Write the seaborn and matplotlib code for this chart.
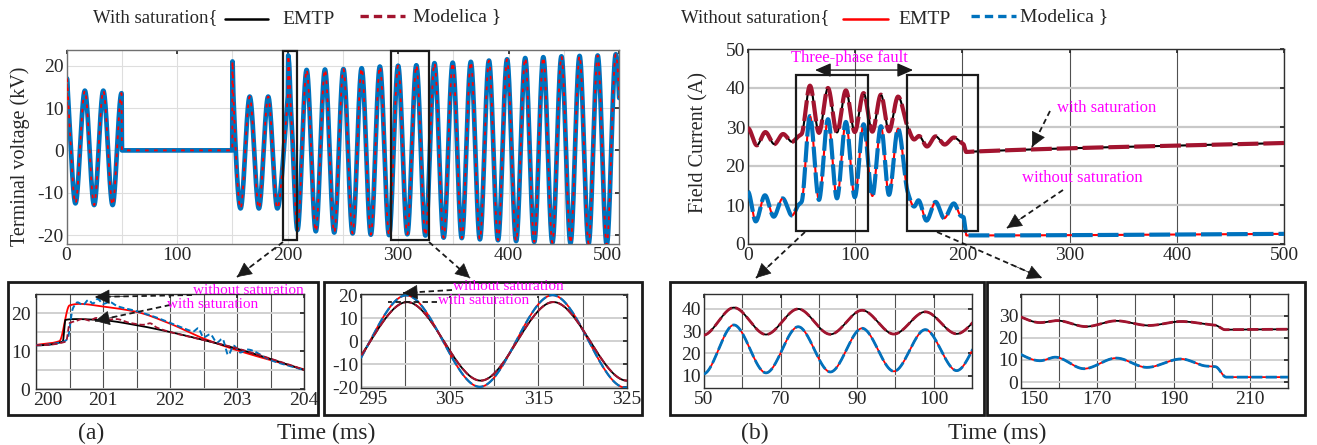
import numpy as np
import pandas as pd
import seaborn as sns
import matplotlib
matplotlib.use("Agg")
import matplotlib.pyplot as plt
import matplotlib.transforms as mtransforms
from matplotlib.patches import Rectangle, FancyArrowPatch
from matplotlib.lines import Line2D

# ---------------------------------------------------------------------------
# Data: turning points (time in ms, value) of each recorded trace
# ---------------------------------------------------------------------------
# Terminal voltage (kV), unsaturated machine
volt_nosat_t = [0.0, 0.3, 1.2, 8.1, 16.6, 25.0, 33.3, 41.7, 49.8, 50.2, 150.0, 150.2,
                151.0, 157.5, 165.8, 174.1, 182.5, 190.8, 200.0, 200.35, 200.5, 200.65,
                201.0, 201.5, 202.0, 202.5, 203.0, 203.5, 204.0, 209.0,
                217.3, 225.6, 233.9, 242.3, 250.6, 258.9, 267.1, 275.4, 283.6, 291.9,
                300.1, 308.4, 316.6, 324.8, 333.0, 341.3, 349.5, 357.7, 365.9, 374.1,
                382.3, 390.5, 398.7, 406.9, 415.1, 423.3, 431.5, 439.7, 447.9, 456.1,
                464.3, 472.5, 480.7, 488.9, 497.1, 505.3]
volt_nosat_v = [8.5, 17.0, 13.5, -12.5, 14.1, -12.9, 14.1, -12.9, 13.5, 0.0, 0.0, 21.0,
                13.0, -13.7, 12.7, -13.7, 12.7, -13.7, 11.6, 12.6, 22.0, 22.4,
                21.7, 20.3, 17.2, 13.3, 10.2, 7.6, 5.2, -18.8,
                19.0, -19.1, 19.1, -19.4, 19.2, -19.6, 19.4, -19.9, 19.8, -20.0,
                20.0, -19.8, 20.1, -20.1, 20.6, -20.6, 20.7, -20.7, 20.9, -21.0,
                21.2, -21.2, 21.5, -21.4, 21.8, -21.6, 22.0, -21.8, 22.2, -21.9,
                22.3, -22.0, 22.4, -22.3, 22.7, -22.5]

# Terminal voltage around the 200 ms step, Modelica, unsaturated
volt_nosat_mod_t = [200.0, 200.4, 200.47, 200.55, 200.62, 200.7, 200.78, 200.85, 200.92,
                    201.0, 201.1, 201.2, 201.5, 201.8, 202.0, 202.2, 202.35, 202.42,
                    202.5, 202.6, 202.7, 202.78, 202.87, 202.95, 203.05, 203.15, 203.5, 204.0]
volt_nosat_mod_v = [11.5, 12.4, 13.2, 21.2, 22.8, 22.1, 23.4, 22.5, 23.7,
                    22.4, 22.9, 21.9, 20.5, 18.8, 17.4, 16.0, 15.2, 16.0,
                    13.6, 14.4, 12.2, 13.2, 9.0, 11.4, 9.6, 10.4, 7.6, 5.0]

# Terminal voltage around the 200 ms step, saturated machine
volt_sat_emtp_t = [200.0, 200.4, 200.44, 200.6, 201.0, 201.5, 202.0, 202.5, 203.0, 203.5, 204.0]
volt_sat_emtp_v = [11.5, 12.5, 18.2, 18.4, 18.1, 16.8, 15.0, 12.9, 10.6, 7.9, 5.0]
volt_sat_mod_t = [200.0, 200.45, 200.5, 200.6, 200.7, 200.8, 200.9, 201.0, 201.2, 201.4,
                  201.6, 201.7, 201.8, 202.0, 202.5, 203.0, 203.5, 203.8, 204.0]
volt_sat_mod_v = [11.5, 12.5, 17.3, 17.9, 18.5, 18.0, 18.7, 18.2, 18.4, 17.4,
                  16.9, 17.3, 16.2, 15.0, 12.9, 10.7, 8.0, 6.3, 5.0]

# Terminal voltage, saturated machine, steady oscillation near 300 ms
volt_sat_t = [283.7, 291.9, 300.2, 308.5, 316.7, 325.0, 333.3]
volt_sat_v = [17.1, -17.0, 17.1, -17.1, 17.1, -17.1, 17.1]

# Field current (A)
field_sat_t = [0.0, 8.2, 16.2, 24.5, 32.7, 41.0, 47.0, 50.0, 57.8, 66.2, 74.6, 83.0, 91.3,
               99.6, 107.8, 116.0, 124.0, 131.5, 140.0, 149.0, 155.0, 159.5, 167.0, 175.0,
               183.5, 192.0, 199.5, 201.0, 203.5, 210.0, 500.0]
field_sat_v = [29.7, 25.3, 28.7, 25.6, 28.2, 26.2, 27.6, 28.2, 40.6, 28.5, 40.0, 28.6, 39.4,
               28.7, 38.7, 28.8, 38.3, 28.9, 37.8, 30.0, 26.8, 27.7, 25.0, 27.6,
               25.5, 27.3, 25.9, 25.6, 23.6, 23.7, 25.9]
field_nosat_t = [0.0, 7.2, 15.8, 24.0, 32.3, 41.0, 47.0, 50.0, 57.8, 66.2, 74.6, 83.0, 91.3,
                 99.6, 107.8, 116.0, 124.0, 131.5, 140.0, 149.0, 155.0, 159.0, 166.5, 175.0,
                 183.0, 192.0, 198.5, 201.0, 203.8, 210.0, 500.0]
field_nosat_v = [13.4, 5.8, 12.5, 7.0, 11.7, 7.3, 10.0, 10.8, 32.8, 11.3, 32.0, 11.7, 31.3,
                 12.0, 30.7, 12.3, 30.2, 12.6, 29.6, 13.3, 9.6, 11.2, 6.0, 10.8,
                 6.6, 10.4, 7.2, 6.9, 2.2, 2.2, 2.6]

C_BLUE, C_RED, C_BLACK, C_DRED = "#0072BD", "#FF0000", "#000000", "#A2142F"
MAGENTA = "#FF00FF"

# ---------------------------------------------------------------------------
sns.set_theme(style="white")
plt.rcParams["font.family"] = ["Liberation Serif", "DejaVu Serif"]
plt.rcParams["axes.unicode_minus"] = False

W, H = 1317, 445
fig = plt.figure(figsize=(W / 100, H / 100), dpi=100)


def fbox(l, r, t, b):
    return [l / W, 1 - b / H, (r - l) / W, (b - t) / H]


def fpt(x, y):
    return (x / W, 1 - y / H)


def smooth(t, v, per_seg=40):
    """Shape-preserving cubic (PCHIP) path through the turning points."""
    t = np.asarray(t, float)
    v = np.asarray(v, float)
    h = np.diff(t)
    d = np.diff(v) / h
    n = len(t)
    m = np.zeros(n)
    for k in range(1, n - 1):
        if d[k - 1] * d[k] > 0:
            w1 = 2 * h[k] + h[k - 1]
            w2 = h[k] + 2 * h[k - 1]
            m[k] = (w1 + w2) / (w1 / d[k - 1] + w2 / d[k])
    m[-1] = d[-1]
    xs, ys = [], []
    s = np.linspace(0, 1, per_seg, endpoint=False)
    for k in range(n - 1):
        h00 = 2 * s**3 - 3 * s**2 + 1
        h10 = s**3 - 2 * s**2 + s
        h01 = -2 * s**3 + 3 * s**2
        h11 = s**3 - s**2
        xs.append(t[k] + s * h[k])
        ys.append(h00 * v[k] + h10 * h[k] * m[k] + h01 * v[k + 1] + h11 * h[k] * m[k + 1])
    xs.append([t[-1]])
    ys.append([v[-1]])
    return np.concatenate(xs), np.concatenate(ys)


def trace(ax, t, v, color, lw, dash=None, z=2):
    x, y = smooth(t, v)
    df = pd.DataFrame({"t": x, "v": y})
    kw = {"linestyle": (0, dash)} if dash else {}
    sns.lineplot(data=df, x="t", y="v", ax=ax, color=color, lw=lw,
                 estimator=None, sort=False, zorder=z, **kw)
    ax.set_xlabel("")
    ax.set_ylabel("")


def style_axes(ax, vgrid="#d9d9d9", hgrid="#d9d9d9", vlw=0.8, hlw=0.8, spine="#404040", fs=14):
    ax.grid(False)
    ax.tick_params(axis="both", which="both", direction="in", length=3, pad=2,
                   labelsize=fs, colors="#262626", top=True, right=True)
    for sp in ax.spines.values():
        sp.set_color(spine)
        sp.set_linewidth(1.0)
    ax.set_axisbelow(True)
    ax.xaxis.grid(True, which="both", color=vgrid, lw=vlw)
    ax.yaxis.grid(True, which="both", color=hgrid, lw=hlw)


def nudge_xlabel(ax, idx, dx_px):
    lbl = ax.get_xticklabels()[idx]
    lbl.set_transform(lbl.get_transform() +
                      mtransforms.ScaledTranslation(dx_px / 100, 0, fig.dpi_scale_trans))


def dashed_arrow(p0, p1, head=True, ms=12, hl=0.8, hw=0.4, lw=1.3):
    (x0, y0), (x1, y1) = fpt(*p0), fpt(*p1)
    fig.add_artist(Line2D([x0, x1], [y0, y1], transform=fig.transFigure,
                          ls=(0, (3, 2)), color="k", lw=lw))
    if head:
        xa, ya = x0 + (x1 - x0) * 0.7, y0 + (y1 - y0) * 0.7
        fig.add_artist(FancyArrowPatch(
            posA=(xa, ya), posB=(x1, y1), transform=fig.transFigure,
            arrowstyle=f"-|>,head_length={hl},head_width={hw}",
            mutation_scale=ms, color="k", lw=0.5, shrinkA=0, shrinkB=0))


def frame(l, r, t, b):
    fig.add_artist(Rectangle(fpt(l, b), (r - l) / W, (b - t) / H, transform=fig.transFigure,
                             fill=False, ec="k", lw=2.0))


# ---------------------------------------------------------------------------
# (a) Terminal voltage, full run
ax_a = fig.add_axes(fbox(66.5, 619, 50, 244))
trace(ax_a, volt_nosat_t, volt_nosat_v, C_BLUE, 3.4, z=2)
trace(ax_a, volt_nosat_t, volt_nosat_v, C_RED, 1.3, dash=(2, 3), z=3)
ax_a.set_xlim(0, 500)
ax_a.set_ylim(-22.1, 23.7)
ax_a.set_xticks(np.arange(0, 501, 100))
ax_a.set_xticks(np.arange(0, 501, 50), minor=True)
ax_a.set_yticks([-20, -10, 0, 10, 20])
style_axes(ax_a, vgrid="#dedede", hgrid="#dedede", spine="#707070")
ax_a.tick_params(which="minor", length=0)
nudge_xlabel(ax_a, -1, -12)
for x0, w in [(196, 13), (293.4, 34.4)]:
    ax_a.add_patch(Rectangle((x0, -21.2), w, 44.6, fill=False, ec="k", lw=1.6,
                             zorder=5, clip_on=False))
fig.text(*fpt(20, 156), "Terminal voltage (kV)", rotation=90, ha="center", va="center",
         fontsize=14.5)

# (b) Field current, full run
ax_b = fig.add_axes(fbox(748, 1284, 49, 244))
trace(ax_b, field_sat_t, field_sat_v, C_BLACK, 1.5, z=2)
trace(ax_b, field_sat_t, field_sat_v, C_DRED, 3.0, dash=(5, 1.2), z=3)
trace(ax_b, field_nosat_t, field_nosat_v, C_RED, 1.5, z=2)
trace(ax_b, field_nosat_t, field_nosat_v, C_BLUE, 3.0, dash=(5, 1.2), z=3)
ax_b.set_xlim(0, 500)
ax_b.set_ylim(0, 50)
ax_b.set_xticks(np.arange(0, 501, 100))
ax_b.set_yticks(np.arange(0, 51, 10))
style_axes(ax_b, vgrid="#505050", hgrid="#c8c8c8", vlw=0.8, hlw=1.6, spine="#303030")
for x0 in [45, 148]:
    ax_b.add_patch(Rectangle((x0, 3.3), 67, 40, fill=False, ec="k", lw=1.6, zorder=5))
ax_b.annotate("", xy=(62.5, 44.6), xytext=(154, 44.6),
              arrowprops=dict(arrowstyle="<|-|>,head_length=0.8,head_width=0.35",
                              mutation_scale=12, color="k", lw=1.0, shrinkA=0, shrinkB=0))
ax_b.text(95, 47.8, "Three-phase fault", color=MAGENTA, fontsize=12, ha="center", va="center")
ax_b.text(288, 34.9, "with saturation", color=MAGENTA, fontsize=12, ha="left", va="center")
ax_b.text(255.6, 16.9, "without saturation", color=MAGENTA, fontsize=12, ha="left",
          va="center")
fig.text(*fpt(699, 142), "Field Current (A)", rotation=90, ha="center", va="center",
         fontsize=14.5)

# ---------------------------------------------------------------------------
# Inset (a1): step at 200 ms
frame(8, 318, 282, 415)
ax1 = fig.add_axes(fbox(36, 304, 294, 389))
trace(ax1, volt_nosat_t, volt_nosat_v, C_RED, 1.3, z=2)
trace(ax1, volt_nosat_mod_t, volt_nosat_mod_v, C_BLUE, 1.4, dash=(3, 1.5), z=3)
trace(ax1, volt_sat_emtp_t, volt_sat_emtp_v, C_BLACK, 1.3, z=2)
trace(ax1, volt_sat_mod_t, volt_sat_mod_v, C_DRED, 1.3, dash=(3, 1.5), z=3)
ax1.set_xlim(200, 204)
ax1.set_ylim(0, 25)
ax1.set_xticks([200, 201, 202, 203, 204])
ax1.set_xticks(np.arange(200, 204.01, 0.5), minor=True)
ax1.set_yticks([0, 10, 20])
ax1.set_yticks([5, 15], minor=True)
style_axes(ax1, vgrid="#505050", hgrid="#d0d0d0", vlw=0.8, hlw=1.4, spine="#303030")
ax1.tick_params(which="minor", length=0)
ax1.tick_params(axis="y", pad=4)
nudge_xlabel(ax1, 0, 12)

# Inset (a2): steady oscillation near 300 ms
frame(324, 642, 282, 415)
ax2 = fig.add_axes(fbox(361, 627, 294, 388))
trace(ax2, volt_nosat_t, volt_nosat_v, C_RED, 1.3, z=2)
trace(ax2, volt_nosat_t, volt_nosat_v, C_BLUE, 1.6, dash=(4, 1.5), z=3)
trace(ax2, volt_sat_t, volt_sat_v, C_BLACK, 1.3, z=2)
trace(ax2, volt_sat_t, volt_sat_v, C_DRED, 1.5, dash=(4, 1.5), z=3)
ax2.set_xlim(295, 325)
ax2.set_ylim(-20.3, 20.6)
ax2.set_xticks([295, 305, 315, 325])
ax2.set_xticks([300, 310, 320], minor=True)
ax2.set_yticks([-20, -10, 0, 10, 20])
style_axes(ax2, vgrid="#505050", hgrid="#d0d0d0", vlw=0.8, hlw=1.4, spine="#303030")
ax2.tick_params(which="minor", length=0)
nudge_xlabel(ax2, 0, 12)

# Inset (b1): during the fault
frame(670, 984, 282, 415)
ax3 = fig.add_axes(fbox(704, 972, 294, 388))
trace(ax3, field_sat_t, field_sat_v, C_BLACK, 1.3, z=2)
trace(ax3, field_sat_t, field_sat_v, C_DRED, 2.0, dash=(4, 1.2), z=3)
trace(ax3, field_nosat_t, field_nosat_v, C_RED, 1.3, z=2)
trace(ax3, field_nosat_t, field_nosat_v, C_BLUE, 2.0, dash=(4, 1.2), z=3)
ax3.set_xlim(50, 120)
ax3.set_ylim(4.5, 46.7)
ax3.set_xticks([50, 70, 90, 110])
ax3.set_xticklabels(["50", "70", "90", "100"])
ax3.set_xticks([60, 80, 100, 120], minor=True)
ax3.set_yticks([10, 20, 30, 40])
style_axes(ax3, vgrid="#505050", hgrid="#d0d0d0", vlw=0.8, hlw=1.4, spine="#303030")
ax3.tick_params(which="minor", length=0)

# Inset (b2): after the fault is cleared
frame(987, 1305, 282, 415)
ax4 = fig.add_axes(fbox(1021, 1288, 294, 388))
trace(ax4, field_sat_t, field_sat_v, C_BLACK, 1.3, z=2)
trace(ax4, field_sat_t, field_sat_v, C_DRED, 2.0, dash=(4, 1.2), z=3)
trace(ax4, field_nosat_t, field_nosat_v, C_RED, 1.3, z=2)
trace(ax4, field_nosat_t, field_nosat_v, C_BLUE, 2.0, dash=(4, 1.2), z=3)
ax4.set_xlim(150, 220)
ax4.set_ylim(-2.7, 39.7)
ax4.set_xticks([150, 170, 190, 210])
ax4.set_xticks([160, 180, 200, 220], minor=True)
ax4.set_yticks([0, 10, 20, 30])
style_axes(ax4, vgrid="#505050", hgrid="#d0d0d0", vlw=0.8, hlw=1.4, spine="#303030")
ax4.tick_params(which="minor", length=0)
nudge_xlabel(ax4, 0, 13)

# ---------------------------------------------------------------------------
# Inset call-outs
fig.text(*fpt(193, 290), "without saturation", color=MAGENTA, fontsize=11, va="center")
fig.text(*fpt(167, 305), "with saturation", color=MAGENTA, fontsize=11, va="center")
dashed_arrow((192, 295), (95, 297))
dashed_arrow((170, 305), (95, 321))
fig.text(*fpt(453, 286), "without saturation", color=MAGENTA, fontsize=11, va="center")
fig.text(*fpt(438, 301), "with saturation", color=MAGENTA, fontsize=11, va="center")
dashed_arrow((452, 290), (403, 293))
dashed_arrow((437, 302), (388, 302), head=False)

# Zoom arrows from the main views
dashed_arrow((283, 242), (237, 277))
dashed_arrow((429, 242), (470, 278))
dashed_arrow((805, 232), (756, 278))
dashed_arrow((937, 232), (1042, 278))
dashed_arrow((1050, 111), (1032, 147))
dashed_arrow((1063, 190), (1007, 228))


# ---------------------------------------------------------------------------
# Header legends
def header(x_text, label, c_emtp, c_mod, x_l1, x_emtp, x_l2, x_mod):
    y = 18
    fig.text(*fpt(x_text, y), label, fontsize=13.5, va="center", ha="left")
    fig.add_artist(Line2D([x_l1[0] / W, x_l1[1] / W], [1 - 19 / H] * 2,
                          transform=fig.transFigure, color=c_emtp, lw=1.8))
    fig.text(*fpt(x_emtp, y + 1), "EMTP", fontsize=14, va="center", ha="left")
    fig.add_artist(Line2D([x_l2[0] / W, x_l2[1] / W], [1 - 16 / H] * 2,
                          transform=fig.transFigure, color=c_mod, lw=2.4, ls=(0, (2.5, 1.5))))
    fig.text(*fpt(x_mod, y - 1), "Modelica }", fontsize=14, va="center", ha="left")


header(93, "With saturation{", C_BLACK, C_DRED, (225, 268), 282, (360, 405), 413)
header(681, "Without saturation{", C_RED, C_BLUE, (843, 888), 898, (971, 1016), 1020)

# Panel captions
fig.text(*fpt(91, 433), "(a)", fontsize=17, ha="center", va="center")
fig.text(*fpt(326, 433), "Time (ms)", fontsize=17, ha="center", va="center")
fig.text(*fpt(755, 433), "(b)", fontsize=17, ha="center", va="center")
fig.text(*fpt(997, 433), "Time (ms)", fontsize=17, ha="center", va="center")

fig.savefig("out.png", dpi=100)
